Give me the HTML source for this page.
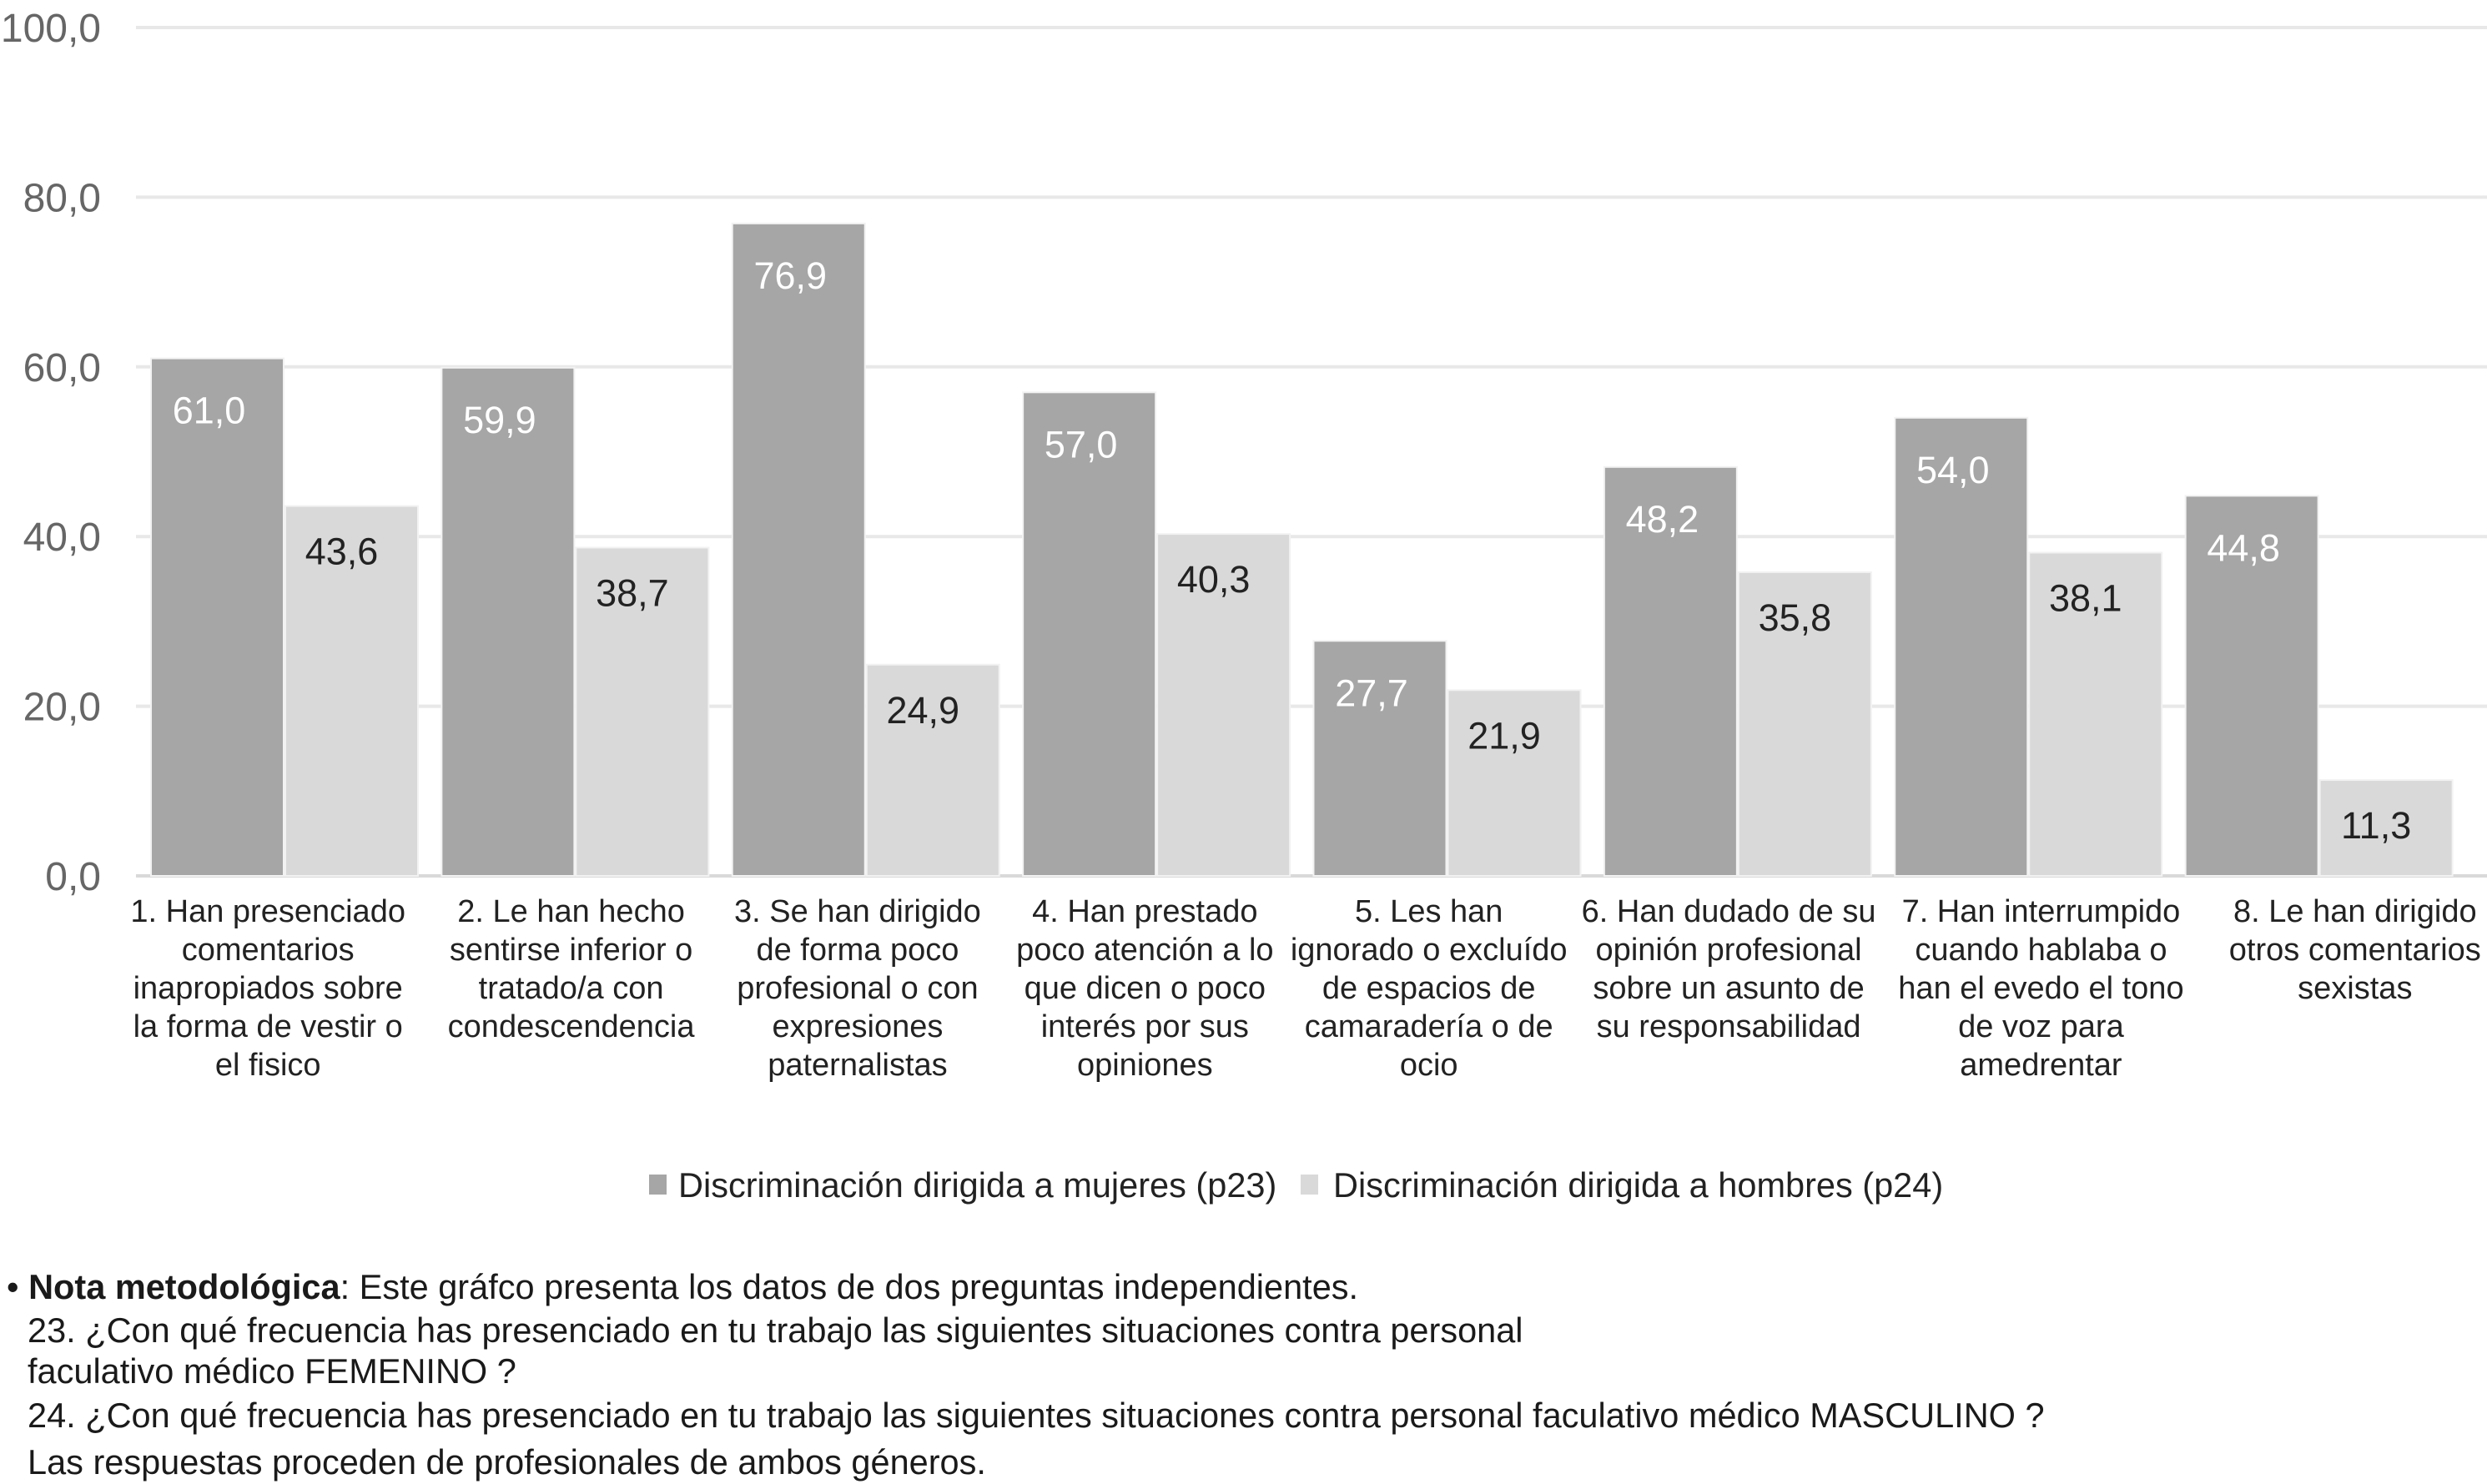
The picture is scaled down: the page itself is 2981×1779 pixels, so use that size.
<!DOCTYPE html>
<html><head><meta charset="utf-8">
<style>
html,body{margin:0;padding:0;background:#fff;}
svg{display:block;font-family:"Liberation Sans",Arial,sans-serif;}
</style></head>
<body>
<svg id="chart" width="2981" height="1779" viewBox="0 0 2981 1779" xmlns="http://www.w3.org/2000/svg">
<g id="grid"></g>
<g id="yticks"></g>
<g id="bars"></g>
<g id="xlabels"></g>
<g>
  <rect x="778" y="1408" width="21" height="24" fill="#a6a6a6"/>
  <text x="813" y="1435" font-size="41.5" fill="#222">Discriminación dirigida a mujeres (p23)</text>
  <rect x="1559" y="1408" width="21" height="24" fill="#d9d9d9"/>
  <text x="1598" y="1435" font-size="41.5" fill="#222">Discriminación dirigida a hombres (p24)</text>
</g>
<g font-size="41.5" fill="#1a1a1a">
  <text x="8" y="1557">• <tspan font-weight="bold">Nota metodológica</tspan>: Este gráfco presenta los datos de dos preguntas independientes.</text>
  <text x="33" y="1609">23. ¿Con qué frecuencia has presenciado en tu trabajo las siguientes situaciones contra personal</text>
  <text x="33" y="1658">faculativo médico FEMENINO ?</text>
  <text x="33" y="1711">24. ¿Con qué frecuencia has presenciado en tu trabajo las siguientes situaciones contra personal  faculativo médico MASCULINO ?</text>
  <text x="33" y="1767">Las respuestas proceden de profesionales de ambos géneros.</text>
</g>
</svg>
<script>
const categories = [
 ["1. Han presenciado","comentarios","inapropiados sobre","la forma de vestir o","el fisico"],
 ["2. Le han hecho","sentirse inferior o","tratado/a con","condescendencia"],
 ["3. Se han dirigido","de forma poco","profesional o con","expresiones","paternalistas"],
 ["4. Han prestado","poco atención a lo","que dicen o poco","interés por sus","opiniones"],
 ["5. Les han","ignorado o excluído","de espacios de","camaradería o de","ocio"],
 ["6. Han dudado de su","opinión profesional","sobre un asunto de","su responsabilidad"],
 ["7. Han interrumpido","cuando hablaba o","han el evedo el tono","de voz para","amedrentar"],
 ["8. Le han dirigido","otros  comentarios","sexistas"]
];
const mujeres = [61.0, 59.9, 76.9, 57.0, 27.7, 48.2, 54.0, 44.8];
const hombres = [43.6, 38.7, 24.9, 40.3, 21.9, 35.8, 38.1, 11.3];
const yTicks = [0, 20, 40, 60, 80, 100];

const NS = "http://www.w3.org/2000/svg";
const plotL = 163, plotR = 2950, y0 = 1050, y100 = 33;
const groupW = (plotR - plotL) / categories.length;
const barW = 159;
// per-label horizontal offset from group center (layout only)
const labelShift = [-16, -1, -6, -10, -18, -7, 19, 47];
function y(v){ return y0 - (v / 100) * (y0 - y100); }
function gx(i){ return plotL + i * groupW; }
function fmt(v){ return v.toFixed(1).replace('.', ','); }
function mk(tag, attrs, parent){ const e = document.createElementNS(NS, tag); for (const k in attrs) e.setAttribute(k, attrs[k]); parent.appendChild(e); return e; }

const grid = document.getElementById('grid'), yt = document.getElementById('yticks');
yTicks.forEach(t => {
  const l = mk('line', {x1: plotL, x2: 2981, y1: y(t), y2: y(t), stroke: t === 0 ? '#d9d9d9' : '#e8e8e8', 'stroke-width': 4}, grid);
  
  
  const tx = mk('text', {x: 121, y: y(t) + 17, 'text-anchor': 'end', 'font-size': 48, fill: '#666'}, yt);
  tx.textContent = fmt(t);
  
  
});

const bars = document.getElementById('bars'), xl = document.getElementById('xlabels');
categories.forEach((lines, i) => {
  const x1 = gx(i) + 18;
  const b1 = mk('rect', {x: x1, y: y(mujeres[i]), width: barW, height: y0 - y(mujeres[i]), fill: '#a6a6a6', stroke: '#f2f2f2', 'stroke-width': 2}, bars);
  
  
  const t1 = mk('text', {x: x1 + barW / 2 - 10, y: y(mujeres[i]) + 78, 'text-anchor': 'middle', 'font-size': 45, fill: '#fff'}, bars);
  t1.textContent = fmt(mujeres[i]);
  
  
  const x2 = x1 + barW + 2;
  const b2 = mk('rect', {x: x2, y: y(hombres[i]), width: barW, height: y0 - y(hombres[i]), fill: '#d9d9d9', stroke: '#f2f2f2', 'stroke-width': 2}, bars);
  
  
  const t2 = mk('text', {x: x2 + barW / 2 - 12, y: y(hombres[i]) + 70, 'text-anchor': 'middle', 'font-size': 45, fill: '#222'}, bars);
  t2.textContent = fmt(hombres[i]);
  
  
  const cx = gx(i) + groupW / 2 + labelShift[i];
  lines.forEach((ln, j) => {
    const tl = mk('text', {x: cx, y: 1105 + j * 46, 'text-anchor': 'middle', 'font-size': 38, fill: '#222'}, xl);
    tl.textContent = ln;
    
    
  });
});
</script>
</body></html>
